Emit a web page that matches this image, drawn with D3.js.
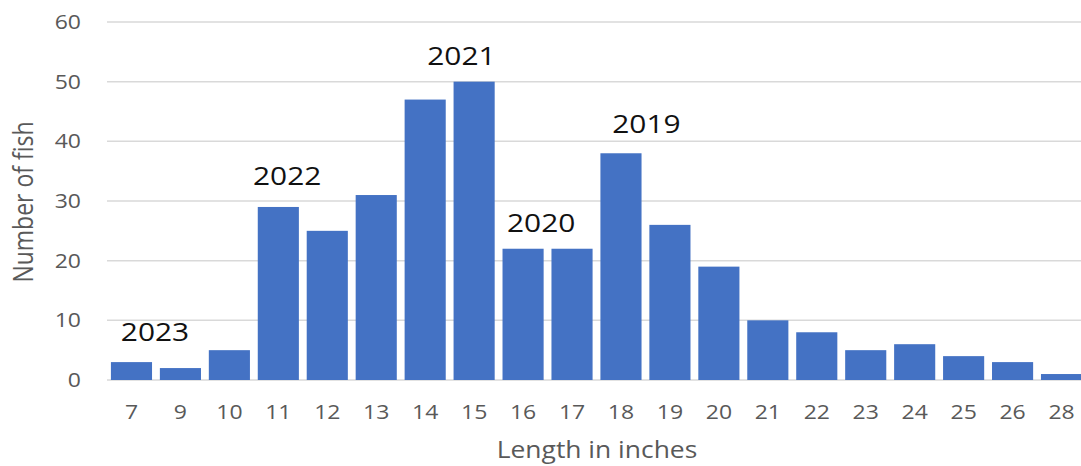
<!DOCTYPE html>
<html>
<head>
<meta charset="utf-8">
<script src="https://cdn.jsdelivr.net/npm/d3@7"></script>
<style>
  body { margin: 0; background: #fff; }
  text { font-family: "Open Sans", sans-serif; }
</style>
</head>
<body>
<div id="chart"></div>
<script>
// fish lengths (inches) and counts
var lengths = ["7", "9", "10", "11", "12", "13", "14", "15", "16", "17", "18", "19", "20", "21", "22", "23", "24", "25", "26", "28"];
var counts = [3, 2, 5, 29, 25, 31, 47, 50, 22, 22, 38, 26, 19, 10, 8, 5, 6, 4, 3, 1];
var yTicks = [0, 10, 20, 30, 40, 50, 60];
// year class labels over the bars (anchor = bar index, may be fractional)
var yearLabels = ["2023", "2022", "2021", "2020", "2019"];
var yearAnchor = [0.48, 3.18, 6.74, 8.37, 10.52];
var yearLevel = [6.5, 32.7, 52.8, 24.8, 41.4];

var width = 1081, height = 466;
var sx = 1.15; // text looks stretched sideways in the original
var svg = d3.select('#chart').append('svg')
    .attr('width', width)
    .attr('height', height);

var x = d3.scaleBand()
    .domain(lengths)
    .range([107, 1086])
    .paddingInner(0.16)
    .paddingOuter(0.08);
var y = d3.scaleLinear()
    .domain([0, 60])
    .range([380, 22]);
var cx = i => x(lengths[0]) + x.bandwidth() / 2 + i * x.step();

function stretched(sel) {
    return sel.attr('transform', function() {
        var t = d3.select(this);
        return 'translate(' + t.attr('x') + ',' + t.attr('y') + ') scale(' + sx + ',1)';
    }).attr('x', 0).attr('y', 0);
}

// gridlines
svg.append('g').selectAll('line')
    .data(yTicks)
    .enter()
    .append('line')
    .attr('x1', 107).attr('x2', 1086)
    .attr('y1', d => y(d)).attr('y2', d => y(d))
    .attr('stroke', '#d9d9d9')
    .attr('stroke-width', 1.5);

// y labels
svg.append('g').selectAll('text')
    .data(yTicks)
    .enter()
    .append('text')
    .attr('x', 81)
    .attr('y', d => y(d) + 7)
    .attr('text-anchor', 'end')
    .attr('fill', '#595959')
    .style('font-size', '20px')
    .text(d => d)
    .call(stretched);

// bars
svg.append('g').selectAll('rect')
    .data(counts)
    .enter()
    .append('rect')
    .attr('x', (d, i) => x(lengths[i]))
    .attr('y', d => y(d))
    .attr('width', x.bandwidth())
    .attr('height', d => y(0) - y(d))
    .attr('fill', '#4472c4');

// x labels
svg.append('g').selectAll('text')
    .data(lengths)
    .enter()
    .append('text')
    .attr('x', d => x(d) + x.bandwidth() / 2)
    .attr('y', 419)
    .attr('text-anchor', 'middle')
    .attr('fill', '#595959')
    .style('font-size', '20px')
    .text(d => d)
    .call(stretched);

// year annotations
svg.append('g').selectAll('text')
    .data(yearLabels)
    .enter()
    .append('text')
    .attr('x', (d, i) => cx(yearAnchor[i]))
    .attr('y', (d, i) => y(yearLevel[i]))
    .attr('text-anchor', 'middle')
    .attr('fill', '#111')
    .style('font-size', '26px')
    .text(d => d)
    .call(stretched);

// axis titles
svg.append('text')
    .attr('transform', 'translate(33,202) scale(' + sx + ',1) rotate(-90)')
    .attr('text-anchor', 'middle')
    .attr('fill', '#595959')
    .style('font-size', '23px')
    .text('Number of fish');
svg.append('text')
    .attr('x', 597)
    .attr('y', 458)
    .attr('text-anchor', 'middle')
    .attr('fill', '#595959')
    .style('font-size', '23px')
    .text('Length in inches')
    .call(stretched);
</script>
</body>
</html>
